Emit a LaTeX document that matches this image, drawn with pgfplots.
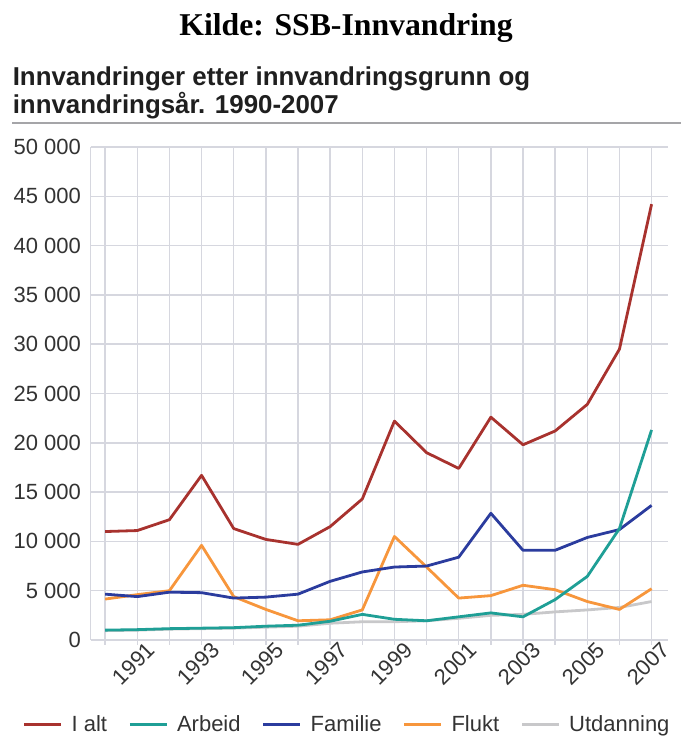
\documentclass[border=0pt]{standalone}
\usepackage{pgfplots}
\pgfplotsset{compat=1.18}
\usepackage{fontspec}
\setmainfont{Liberation Sans}
\newfontfamily\titlefont{Liberation Serif}
\definecolor{calt}{HTML}{A8322E}
\definecolor{carb}{HTML}{1F9F96}
\definecolor{cfam}{HTML}{2B3C9E}
\definecolor{cflu}{HTML}{F7963C}
\definecolor{cutd}{HTML}{C8C8CA}
\definecolor{gridc}{HTML}{D6D7DF}
\definecolor{tickc}{HTML}{333333}
\definecolor{rulec}{HTML}{A5A5A8}
\begin{document}
\begin{tikzpicture}
\path[use as bounding box] (0,0) rectangle (510.75pt,561.75pt);
\node[anchor=base, font=\titlefont\fontsize{23.8pt}{28pt}\selectfont\bfseries] at (259.5pt,534.75pt) {Kilde: SSB-Innvandring};
\node[anchor=base west, inner sep=0pt, text=black!88, font=\fontsize{19.4pt}{22pt}\selectfont\bfseries] at (9.4pt,497.6pt) {Innvandringer etter innvandringsgrunn og};
\node[anchor=base west, inner sep=0pt, text=black!88, font=\fontsize{19.4pt}{22pt}\selectfont\bfseries] at (9.4pt,476.6pt) {innvandringsår. 1990-2007};
\draw[rulec, line width=1.6pt] (9pt,469.5pt) -- (510.75pt,469.5pt);
\begin{axis}[
  at={(68pt,81.75pt)}, anchor=south west,
  width=432.75pt, height=369.75pt, scale only axis,
  xmin=1989.55, xmax=2007.5, ymin=0, ymax=50000,
  scaled y ticks=false,
  axis line style={draw=none},
  grid=major,
  grid style={gridc, line width=1.1pt},
  xtick={1990,...,2007},
  xticklabels={,1991,,1993,,1995,,1997,,1999,,2001,,2003,,2005,,2007},
  extra x ticks={1989.55}, extra x tick labels={},
  extra x tick style={grid=major, major tick length=0pt},
  xtick pos=bottom, tick align=outside,
  major tick length=3.75pt,
  xtick style={gridc, line width=1.1pt},
  ytick={0,5000,...,50000},
  yticklabels={0,5 000,10 000,15 000,20 000,25 000,30 000,35 000,40 000,45 000,50 000},
  ytick style={draw=none},
  ytick pos=left,
  tick label style={font=\fontsize{16.5pt}{18pt}\selectfont, text=tickc},
  xticklabel style={rotate=45, anchor=east, inner sep=0pt, xshift=7pt, yshift=-8pt},
  legend columns=5,
  legend style={at={(axis description cs:-0.1179,-0.1724)}, anchor=west, draw=none, fill=none, inner sep=0pt,
    font=\fontsize{16.5pt}{18pt}\selectfont, text=tickc,
    nodes={inner sep=0pt},
    /tikz/every odd column/.append style={column sep=6.5pt},
    /tikz/every even column/.append style={column sep=16pt}},
  legend image code/.code={\draw[#1,line width=2.25pt] (0pt,0pt) -- (27.75pt,0pt);},
  every axis plot/.append style={line width=2.1pt, line join=round, no markers},
]
\addlegendimage{calt}\addlegendentry{I alt}
\addlegendimage{carb}\addlegendentry{Arbeid}
\addlegendimage{cfam}\addlegendentry{Familie}
\addlegendimage{cflu}\addlegendentry{Flukt}
\addlegendimage{cutd}\addlegendentry{Utdanning}
% Utdanning
\addplot[cutd, forget plot] coordinates {
(1990,950) (1991,1000) (1992,1100) (1993,1150) (1994,1200) (1995,1300) (1996,1400) (1997,1700) (1998,1850)
(1999,1850) (2000,1950) (2001,2200) (2002,2500) (2003,2600) (2004,2850) (2005,3050) (2006,3300) (2007,3900)};
% Flukt
\addplot[cflu, forget plot] coordinates {
(1990,4150) (1991,4600) (1992,5000) (1993,9600) (1994,4400) (1995,3100) (1996,1950) (1997,2050) (1998,3050)
(1999,10500) (2000,7400) (2001,4250) (2002,4500) (2003,5550) (2004,5100) (2005,3900) (2006,3100) (2007,5200)};
% Familie
\addplot[cfam, forget plot] coordinates {
(1990,4650) (1991,4400) (1992,4850) (1993,4800) (1994,4250) (1995,4350) (1996,4650) (1997,5950) (1998,6900)
(1999,7400) (2000,7500) (2001,8400) (2002,12850) (2003,9100) (2004,9100) (2005,10400) (2006,11200) (2007,13650)};
% Arbeid
\addplot[carb, forget plot] coordinates {
(1990,1000) (1991,1050) (1992,1150) (1993,1200) (1994,1250) (1995,1400) (1996,1500) (1997,1900) (1998,2600)
(1999,2100) (2000,1950) (2001,2350) (2002,2750) (2003,2350) (2004,4100) (2005,6450) (2006,11300) (2007,21300)};
% I alt
\addplot[calt, forget plot] coordinates {
(1990,11000) (1991,11100) (1992,12200) (1993,16700) (1994,11300) (1995,10200) (1996,9700) (1997,11500) (1998,14300)
(1999,22200) (2000,19000) (2001,17400) (2002,22600) (2003,19800) (2004,21200) (2005,23900) (2006,29500) (2007,44200)};
\end{axis}
\end{tikzpicture}
\end{document}
